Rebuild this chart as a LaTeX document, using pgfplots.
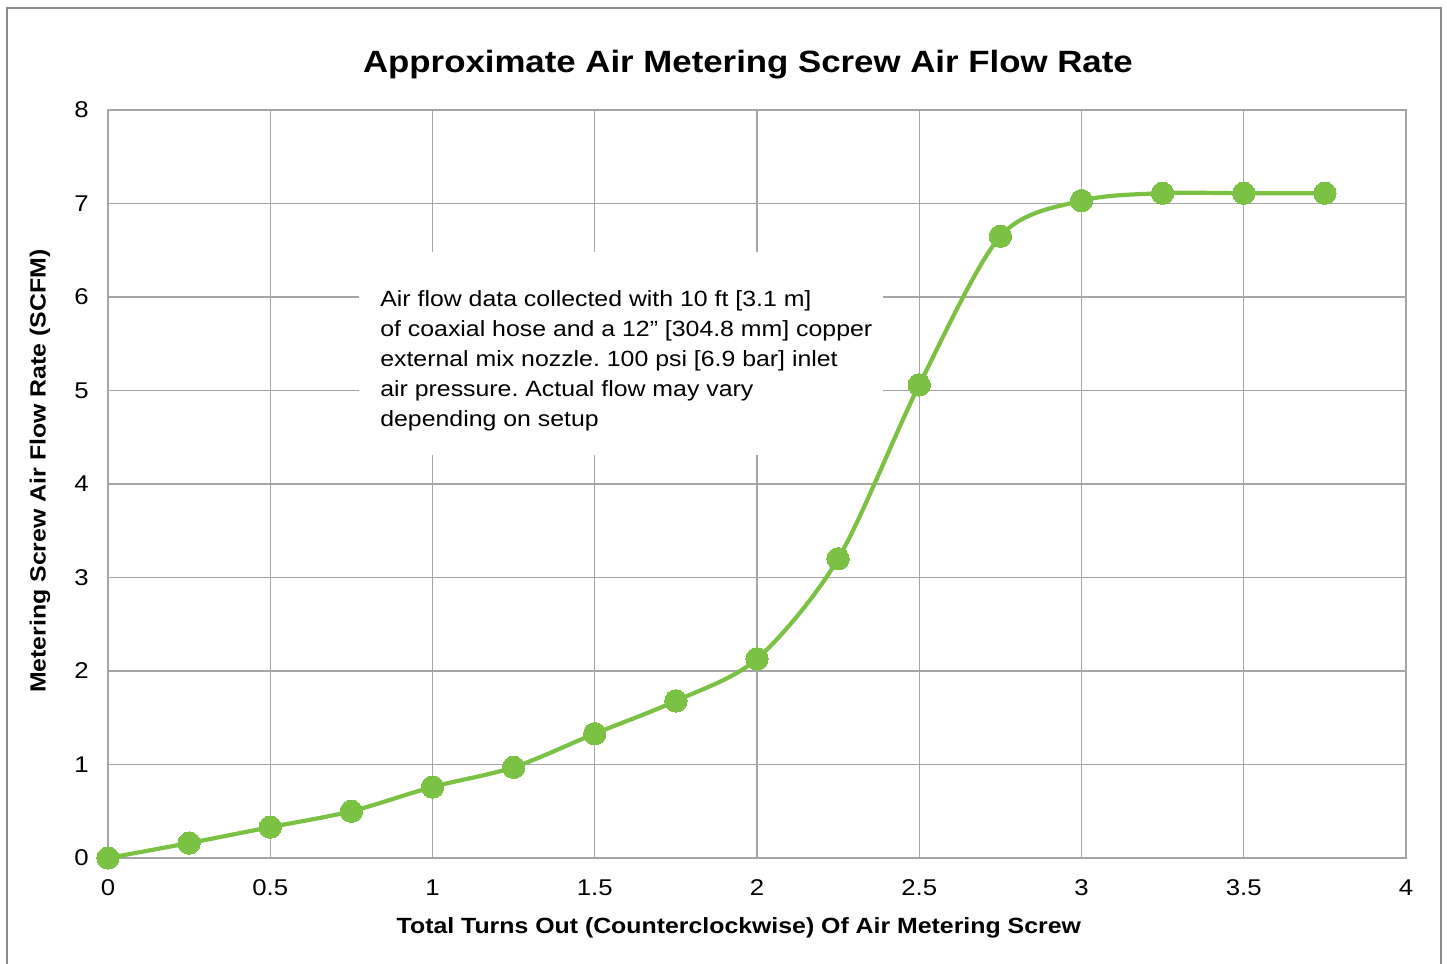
\documentclass[border=0pt]{standalone}
\usepackage{fontspec}
\setmainfont{Liberation Sans}[FakeStretch=1.13]
\usepackage{pgfplots}
\pgfplotsset{compat=1.18}
\definecolor{lgreen}{RGB}{123,193,67}
\definecolor{gridgray}{RGB}{165,165,165}
\definecolor{framegray}{RGB}{140,140,140}
\frenchspacing
\begin{document}
\begin{tikzpicture}[x=0.5pt,y=0.5pt]
\path[use as bounding box] (0,0) rectangle (1447,964);
\draw[framegray, line width=1.2pt] (7,-10) -- (7,956) -- (1441,956) -- (1441,-10);
\begin{axis}[
  at={(54pt,53pt)}, anchor=south west,
  scale only axis, width=649pt, height=374pt,
  xmin=0, xmax=4, ymin=0, ymax=8,
  xtick={0,0.5,1,1.5,2,2.5,3,3.5,4},
  ytick={0,1,2,3,4,5,6,7,8},
  grid=major,
  major grid style={gridgray, line width=0.6pt},
  axis line style={gridgray, line width=0.6pt},
  tick style={draw=none},
  clip=false,
  /pgf/number format/assume math mode=true,
  tick label style={font=\fontsize{11.4}{13}\selectfont},
  xticklabel style={anchor=center, yshift=-15pt},
  yticklabel style={anchor=east, inner sep=0pt, xshift=-9.5pt},
  title={Approximate Air Metering Screw Air Flow Rate},
  title style={font=\bfseries\fontsize{15.4}{18}\selectfont, at={(axis description cs:0.493,1.044)}, anchor=center},
  xlabel={Total Turns Out (Counterclockwise) Of Air Metering Screw},
  xlabel style={font=\bfseries\fontsize{11}{13}\selectfont, at={(axis description cs:0.486,-0.0936)}, anchor=center},
  ylabel={Metering Screw Air Flow Rate (SCFM)},
  ylabel style={font=\bfseries\fontsize{11}{13}\selectfont, at={(axis description cs:-0.0524,0.517)}, anchor=center},
]
\fill[white] (axis cs:0.7735,4.31) rectangle (axis cs:2.388,6.48);
\node[anchor=north west, align=left, inner sep=0pt, font=\fontsize{11}{15}\selectfont]
  at (axis cs:0.838,6.07) {Air flow data collected with 10 ft [3.1 m]\\of coaxial hose and a 12” [304.8 mm] copper\\external mix nozzle. 100 psi [6.9 bar] inlet\\air pressure. Actual flow may vary\\depending on setup};
\addplot[lgreen, line width=2.1pt, smooth, mark=*, mark size=5.6pt,
  mark options={fill=lgreen, draw=lgreen, line width=0pt}] coordinates {
  (0,0) (0.25,0.16) (0.5,0.33) (0.75,0.50) (1,0.76) (1.25,0.97)
  (1.5,1.33) (1.75,1.68) (2,2.13) (2.25,3.20) (2.5,5.06) (2.75,6.65)
  (3,7.03) (3.25,7.11) (3.5,7.11) (3.75,7.11)
};
\end{axis}
\end{tikzpicture}
\end{document}
